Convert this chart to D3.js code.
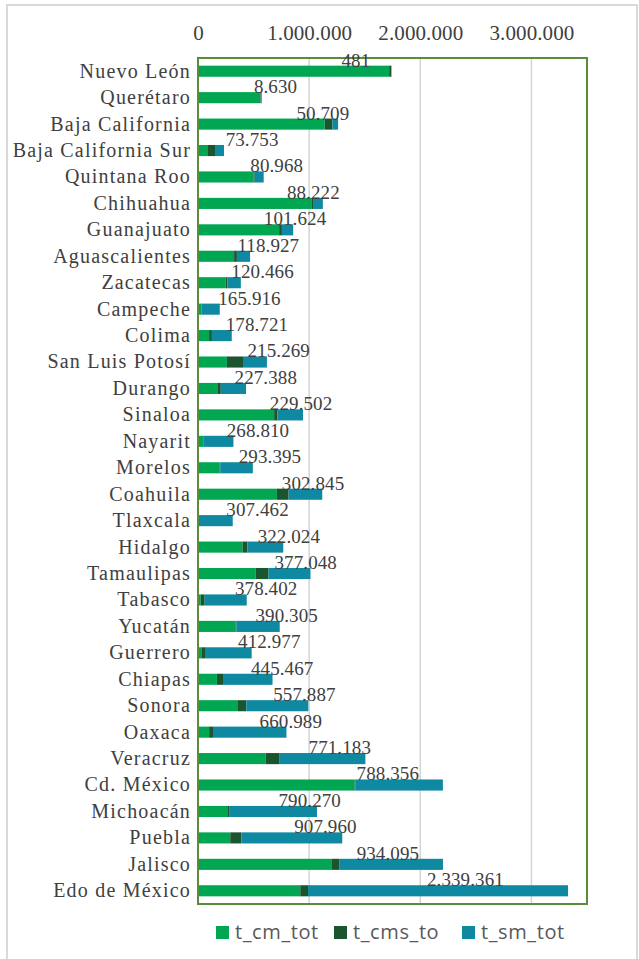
<!DOCTYPE html>
<html>
<head>
<meta charset="utf-8">
<script src="https://cdn.jsdelivr.net/npm/d3@7"></script>
<style>
  body { margin: 0; background: #fff; }
  svg { display: block; }
</style>
</head>
<body>
<div id="chart"></div>
<script>
// data (t_sm_tot values are the printed labels)
var states = ["Nuevo León", "Querétaro", "Baja California", "Baja California Sur", "Quintana Roo",
  "Chihuahua", "Guanajuato", "Aguascalientes", "Zacatecas", "Campeche", "Colima", "San Luis Potosí",
  "Durango", "Sinaloa", "Nayarit", "Morelos", "Coahuila", "Tlaxcala", "Hidalgo", "Tamaulipas",
  "Tabasco", "Yucatán", "Guerrero", "Chiapas", "Sonora", "Oaxaca", "Veracruz", "Cd. México",
  "Michoacán", "Puebla", "Jalisco", "Edo de México"];
var tCmTot = [1720000, 560000, 1140000, 90000, 500000, 1025000, 730000, 325000, 250000, 30000,
  100000, 260000, 180000, 685000, 45000, 195000, 710000, 5000, 400000, 520000, 25000, 340000,
  30000, 170000, 360000, 100000, 610000, 1410000, 270000, 290000, 1205000, 920000];
var tCmsTo = [20000, 5000, 70000, 70000, 10000, 10000, 25000, 25000, 15000, 0, 25000, 145000,
  25000, 30000, 5000, 5000, 105000, 0, 45000, 115000, 35000, 5000, 40000, 55000, 75000, 35000,
  125000, 5000, 10000, 100000, 65000, 70000];
var tSmTot = [481, 8630, 50709, 73753, 80968, 88222, 101624, 118927, 120466, 165916, 178721,
  215269, 227388, 229502, 268810, 293395, 302845, 307462, 322024, 377048, 378402, 390305,
  412977, 445467, 557887, 660989, 771183, 788356, 790270, 907960, 934095, 2339361];
var seriesKeys = ["t_cm_tot", "t_cms_to", "t_sm_tot"];
var seriesColors = ["#00a651", "#1b5530", "#0f88a1"];
var tickValues = [0, 1000000, 2000000, 3000000];

var width = 639, height = 959;
var plot = { left: 198, right: 587, top: 58, bottom: 904 };
var serif = "Liberation Serif";
var sans = "Open Sans";

var es = d3.formatLocale({ decimal: ",", thousands: ".", grouping: [3], currency: ["$", ""] });
var fmt = es.format(",");

var rows = states.map(function(s, i) {
  return { state: s, t_cm_tot: tCmTot[i], t_cms_to: tCmsTo[i], t_sm_tot: tSmTot[i] };
});

var svg = d3.select("#chart").append("svg")
  .attr("width", width)
  .attr("height", height);

// outer frame
svg.append("rect")
  .attr("x", 7).attr("y", 5)
  .attr("width", 630).attr("height", 1000)
  .attr("fill", "#fff")
  .attr("stroke", "#d9d9d9")
  .attr("stroke-width", 2);

var x = d3.scaleLinear()
  .domain([0, 3500000])
  .range([plot.left, plot.right]);

var y = d3.scaleBand()
  .domain(states)
  .range([plot.top, plot.bottom])
  .paddingInner(0.58)
  .paddingOuter(0.29);

// gridlines
svg.append("g")
  .selectAll("line")
  .data(tickValues.slice(1))
  .enter().append("line")
    .attr("x1", function(d) { return x(d); })
    .attr("x2", function(d) { return x(d); })
    .attr("y1", plot.top)
    .attr("y2", plot.bottom)
    .attr("stroke", "#d4d4d4")
    .attr("stroke-width", 1.5);

// top axis, labels only
var xAxis = svg.append("g")
  .attr("transform", "translate(0,40)")
  .call(d3.axisTop(x).tickValues(tickValues).tickFormat(fmt).tickSize(0).tickPadding(0));
xAxis.attr("font-family", serif);
xAxis.select(".domain").remove();
xAxis.selectAll("text")
  .attr("font-family", serif)
  .style("font-family", serif)
  .style("font-size", "21px")
  .style("letter-spacing", "0.1px")
  .attr("fill", "#404040")
  .attr("dy", 0);

// stacked bars
var stack = d3.stack().keys(seriesKeys);
var layers = stack(rows);

svg.append("g")
  .selectAll("g")
  .data(layers)
  .enter().append("g")
    .attr("fill", function(d, i) { return seriesColors[i]; })
  .selectAll("rect")
  .data(function(d) { return d; })
  .enter().append("rect")
    .attr("x", function(d) { return x(d[0]); })
    .attr("y", function(d) { return y(d.data.state); })
    .attr("width", function(d) { return x(d[1]) - x(d[0]); })
    .attr("height", y.bandwidth());

// plot border
svg.append("rect")
  .attr("x", plot.left).attr("y", plot.top)
  .attr("width", plot.right - plot.left)
  .attr("height", plot.bottom - plot.top)
  .attr("fill", "none")
  .attr("stroke", "#5b8c3c")
  .attr("stroke-width", 2);

// category labels
var yAxis = svg.append("g")
  .attr("transform", "translate(" + (plot.left - 7) + ",0)")
  .call(d3.axisLeft(y).tickSize(0).tickPadding(0));
yAxis.select(".domain").remove();
yAxis.selectAll("text")
  .style("font-family", serif)
  .style("font-size", "20px")
  .style("letter-spacing", "1.2px")
  .attr("fill", "#404040");

// value labels (t_sm_tot)
svg.append("g")
  .attr("font-family", serif)
  .selectAll("text")
  .data(rows)
  .enter().append("text")
    .attr("x", function(d) {
      var total = d.t_cm_tot + d.t_cms_to + d.t_sm_tot;
      return x(total * 0.62) + 38;
    })
    .attr("y", function(d) { return y(d.state) + 1; })
    .attr("text-anchor", "middle")
    .style("font-family", serif)
    .style("font-size", "19px")
    .style("letter-spacing", "0.1px")
    .attr("fill", "#404040")
    .text(function(d) { return fmt(d.t_sm_tot); });

// legend
var legend = svg.append("g")
  .attr("transform", "translate(216,926)");
var legendX = [0, 118, 246];
seriesKeys.forEach(function(k, i) {
  var g = legend.append("g").attr("transform", "translate(" + legendX[i] + ",0)");
  g.append("rect")
    .attr("width", 13).attr("height", 13)
    .attr("fill", seriesColors[i]);
  g.append("text")
    .attr("x", 19).attr("y", 13)
    .style("font-family", sans)
    .style("font-size", "20px")
    .style("letter-spacing", "0.6px")
    .attr("fill", "#595959")
    .text(k);
});
</script>
</body>
</html>
